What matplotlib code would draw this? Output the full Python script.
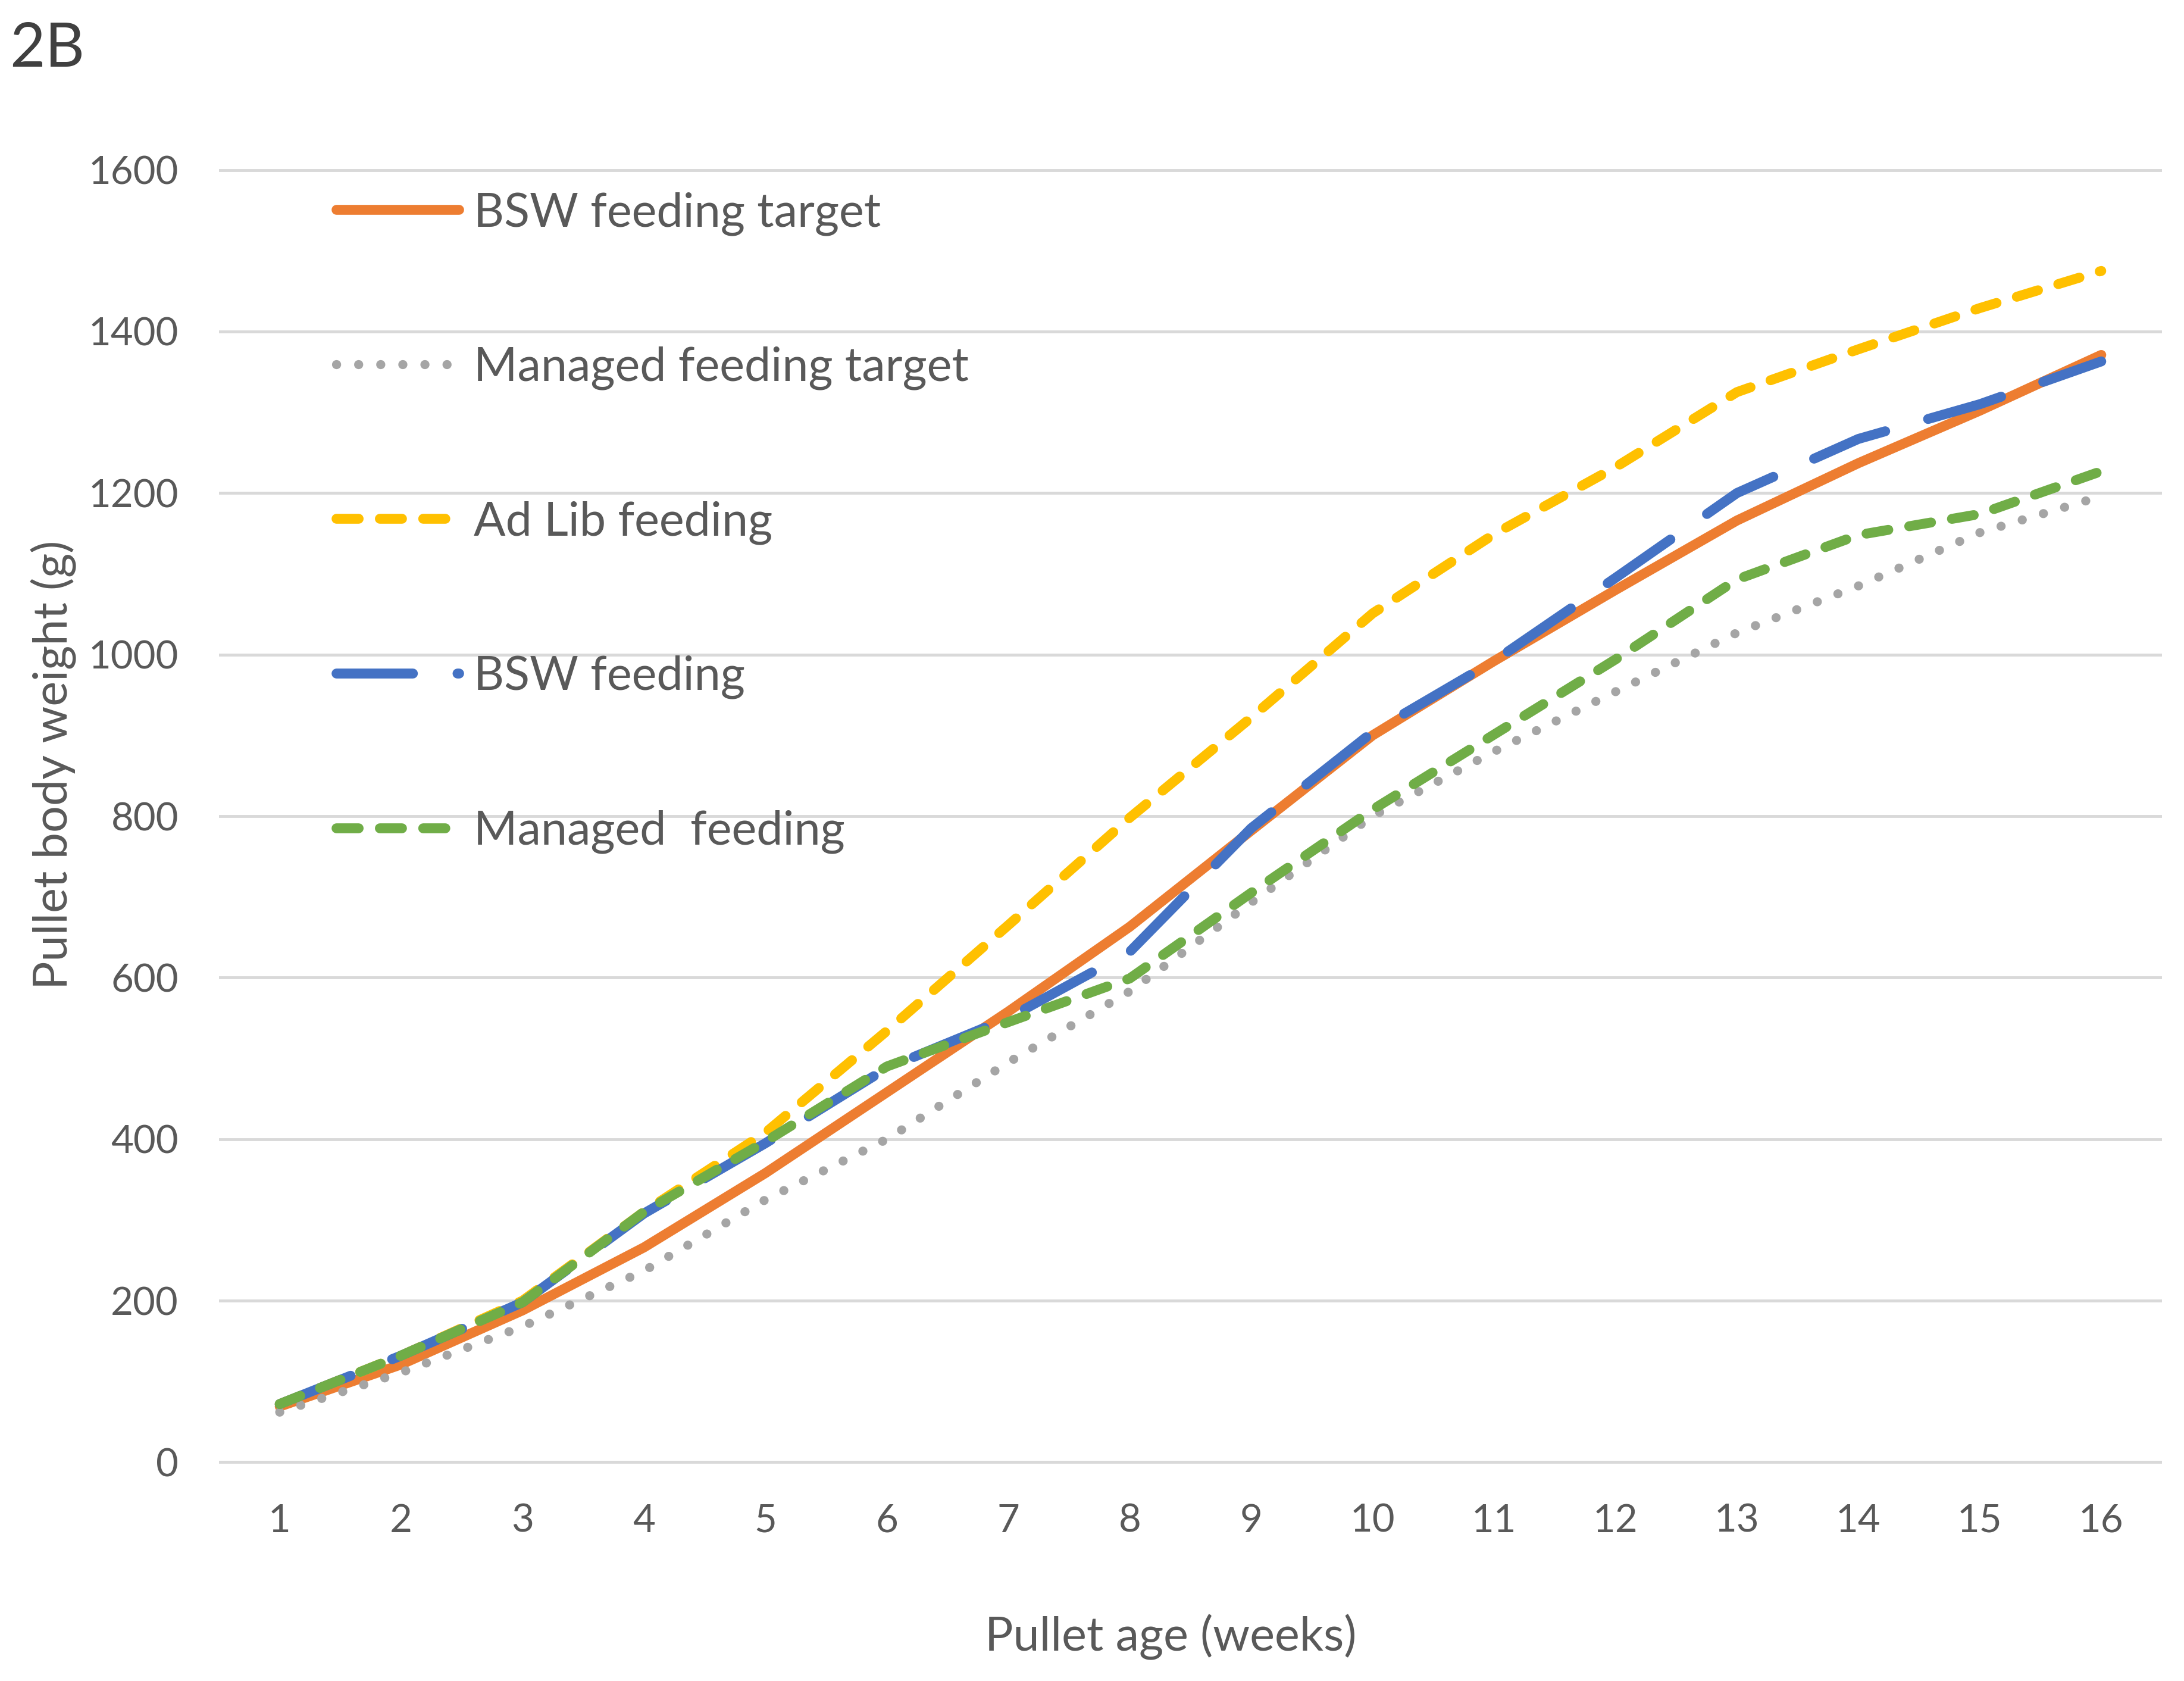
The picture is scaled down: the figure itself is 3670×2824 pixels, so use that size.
import matplotlib
matplotlib.use("Agg")
import matplotlib.pyplot as plt

# ---- data ----
weeks = list(range(1, 17))
bsw_target = [69, 121, 188, 266, 358, 458, 558, 663, 782, 900, 992, 1080, 1166, 1237, 1302, 1371]
managed_target = [62, 111, 168, 237, 325, 400, 495, 583, 693, 800, 880, 954, 1027, 1085, 1151, 1196]
ad_lib = [72, 132, 200, 310, 408, 534, 665, 798, 922, 1051, 1149, 1232, 1325, 1378, 1429, 1475]
bsw_feeding = [72, 132, 198, 308, 395, 488, 550, 632, 785, 904, 992, 1095, 1200, 1267, 1310, 1363]
managed_feeding = [72, 132, 198, 310, 397, 490, 545, 599, 705, 808, 901, 994, 1093, 1148, 1174, 1227]
series_labels = ["BSW feeding target", "Managed feeding target", "Ad Lib feeding",
                 "BSW feeding", "Managed  feeding"]
y_ticks = [0, 200, 400, 600, 800, 1000, 1200, 1400, 1600]

plt.rcParams['font.family'] = ['Lato', 'DejaVu Sans']
TXT = '#595959'

W, H = 3670, 2824
fig = plt.figure(figsize=(W / 100, H / 100), dpi=100)
ax = fig.add_axes([368 / W, 1 - 2470 / H, (3633 - 368) / W, (2470 - 272) / H])

LW = 12
common = dict(solid_joinstyle='round', dash_joinstyle='round')
ax.plot(weeks, bsw_target, color='#ED7D31', linewidth=LW, solid_capstyle='round',
        label=series_labels[0], **common)
ax.plot(weeks, managed_target, color='#A5A5A5', linewidth=11, linestyle=(0, (0.01, 2.42)),
        dash_capstyle='round', label=series_labels[1], **common)
ax.plot(weeks, ad_lib, color='#FFC000', linewidth=LW, linestyle=(0, (2.23, 2.14)),
        dash_capstyle='round', label=series_labels[2], **common)
ax.plot(weeks, bsw_feeding, color='#4472C4', linewidth=LW, linestyle=(0, (7.7, 4.5)),
        dash_capstyle='round', label=series_labels[3], **common)
ax.plot(weeks, managed_feeding, color='#70AD47', linewidth=LW, linestyle=(0, (2.23, 2.14)),
        dash_capstyle='round', label=series_labels[4], **common)

ax.set_xlim(0.5, 16.5)
ax.set_ylim(-10, 1610)
ax.set_xticks(weeks)
ax.set_xticklabels([str(w) for w in weeks])
ax.set_yticks(y_ticks)
ax.set_yticklabels([str(v) for v in y_ticks])
ax.tick_params(axis='both', length=0, labelsize=47, labelcolor=TXT)
ax.tick_params(axis='x', pad=40)
ax.tick_params(axis='y', pad=49)
for s in ax.spines.values():
    s.set_visible(False)
ax.yaxis.grid(True, color='#D9D9D9', linewidth=3.5)
ax.set_axisbelow(True)

ax.set_xlabel("Pullet age (weeks)", fontsize=57, color=TXT)
ax.xaxis.label.set_va('baseline')
ax.xaxis.set_label_coords((1967 - 368) / (3633 - 368), (2470 - 2773) / (2470 - 272))
ax.set_ylabel("Pullet body weight (g)", fontsize=57, color=TXT)
ax.yaxis.label.set_rotation_mode('anchor')
ax.yaxis.label.set_va('baseline')
ax.yaxis.set_label_coords((113 - 368) / (3633 - 368), (2470 - 1285) / (2470 - 272))

leg = ax.legend(loc='upper left', bbox_to_anchor=(565 / W, 1 - 322 / H),
                bbox_transform=fig.transFigure, frameon=False, fontsize=57,
                handlelength=2.6, handletextpad=0.32, labelspacing=2.35,
                borderpad=0, borderaxespad=0)
for t in leg.get_texts():
    t.set_color(TXT)

fig.text(16 / W, 1 - 112 / H, "2B", fontsize=74, color='#404040', ha='left', va='baseline')

fig.savefig("out.png", dpi=100, facecolor='white')
